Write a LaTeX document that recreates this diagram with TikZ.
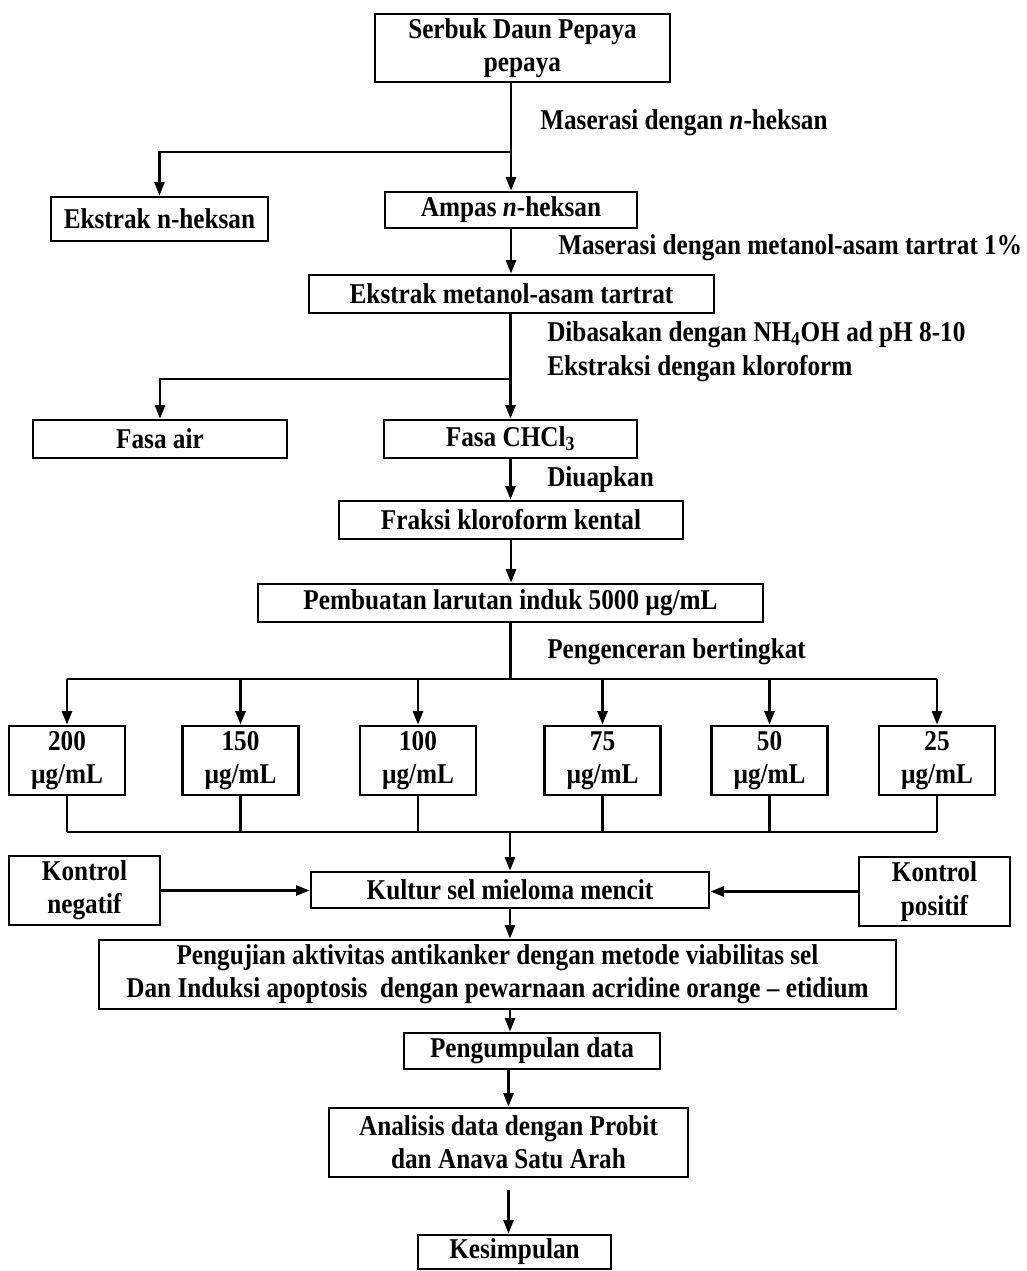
\documentclass[tikz,border=0pt]{standalone}
\usepackage{fontspec}
\setmainfont{Liberation Serif}
\newfontfamily\heavyfont{Liberation Serif}[FakeStretch=0.88,Ligatures=TeX]
\usetikzlibrary{arrows.meta}
\begin{document}
\begin{tikzpicture}[x=0.75pt,y=-0.75pt,
  txt/.style={font=\heavyfont\bfseries\fontsize{21.5}{25}\selectfont},
  box/.style={txt, draw, line width=2.2pt, inner sep=0pt, align=center},
  sz/.style 2 args={minimum width=#1*0.75pt, minimum height=#2*0.75pt},
  lbl/.style={txt, anchor=west, inner sep=0pt},
  conn/.style={line width=1.8pt},
  arr/.style={conn, -{Triangle[length=10pt,width=7.5pt]}}]
\useasboundingbox (0,0) rectangle (1026,1271);

% helper coordinates for horizontal levels
\coordinate (y152) at (0,152);
\coordinate (y379) at (0,379);
\coordinate (y679) at (0,679);
\coordinate (y832) at (0,832);

% nodes
\node[box, sz={295}{68}] (serbuk) at (522.5,48) {Serbuk Daun Pepaya\\pepaya};
\node[box, sz={217}{44}] (ekhek) at (159.5,219) {Ekstrak n-heksan};
\node[box, sz={252}{36}] (ampas) at (511,210) {Ampas \textit{n}-heksan};
\node[box, sz={405}{38}] (ekmet) at (511.5,294) {Ekstrak metanol-asam tartrat};
\node[box, sz={254}{38}] (fair) at (160,439) {Fasa air};
\node[box, sz={253}{38}] (fchcl) at (510.5,439) {Fasa CHCl\textsubscript{3}};
\node[box, sz={344}{38}] (fraksi) at (511,520) {Fraksi kloroform kental};
\node[box, sz={505}{38}] (induk) at (510.5,603) {Pembuatan larutan induk 5000 µg/mL};

\node[box, sz={116}{69}] (c200) at (67,760.5) {200\\µg/mL};
\node[box, sz={116}{69}] (c150) at (240.5,760.5) {150\\µg/mL};
\node[box, sz={116}{69}] (c100) at (418,760.5) {100\\µg/mL};
\node[box, sz={116}{69}] (c75) at (602.5,760.5) {75\\µg/mL};
\node[box, sz={116}{69}] (c50) at (769.5,760.5) {50\\µg/mL};
\node[box, sz={116}{69}] (c25) at (937,760.5) {25\\µg/mL};

\node[box, sz={151}{69}] (kneg) at (84.5,890.5) {Kontrol\\negatif};
\node[box, sz={398}{36}] (kultur) at (510,890) {Kultur sel mieloma mencit};
\node[box, sz={151}{69}] (kpos) at (934.5,891.5) {Kontrol\\positif};
\node[box, sz={797}{69}] (uji) at (497.5,974.5) {Pengujian aktivitas antikanker dengan metode viabilitas sel\\Dan Induksi apoptosis\ \ dengan pewarnaan acridine orange – etidium};
\node[box, sz={256}{36}] (kumpul) at (532,1051) {Pengumpulan data};
\node[box, sz={359}{69}] (analisis) at (508.5,1142.5) {Analisis data dengan Probit\\dan Anava Satu Arah};
\node[box, sz={193}{34}] (simpul) at (514.5,1252) {Kesimpulan};

% labels
\node[lbl] (l1) at (540,123) {Maserasi dengan \textit{n}-heksan};
\node[lbl] (l2) at (558,248) {Maserasi dengan metanol-asam tartrat 1\%};
\node[lbl] (l3) at (547,335) {Dibasakan dengan NH\textsubscript{4}OH ad pH 8-10};
\node[lbl] (l4) at (547,369) {Ekstraksi dengan kloroform};
\node[lbl] (l5) at (547,480) {Diuapkan};
\node[lbl] (l6) at (547,652) {Pengenceran bertingkat};

% connectors
\draw[arr] (serbuk.south -| ampas.north) -- (ampas.north);
\draw[arr] (ampas.north |- y152) -| (ekhek.north);
\draw[arr] (ampas.south) -- (ampas.south |- ekmet.north);
\draw[arr] (ekmet.south -| fchcl.north) -- (fchcl.north);
\draw[arr] (fchcl.north |- y379) -| (fair.north);
\draw[arr] (fchcl.south) -- (fchcl.south |- fraksi.north);
\draw[arr] (fraksi.south) -- (fraksi.south |- induk.north);
\draw[conn] (induk.south) -- (induk.south |- y679);
\draw[conn] (c200.north |- y679) -- (c25.north |- y679);
\foreach \c in {c200,c150,c100,c75,c50,c25}{
  \draw[arr] (\c.north |- y679) -- (\c.north);
  \draw[conn] (\c.south) -- (\c.south |- y832);
}
\draw[conn] (c200.south |- y832) -- (c25.south |- y832);
\draw[arr] (kultur.north |- y832) -- (kultur.north);
\draw[arr] (kneg.east) -- (kneg.east -| kultur.west);
\draw[arr] (kpos.west) -- (kpos.west -| kultur.east);
\draw[arr] (kultur.south) -- (kultur.south |- uji.north);
\draw[arr] (uji.south -| kultur.south) -- (kumpul.north -| kultur.south);
\draw[arr] (kumpul.south -| analisis.north) -- (analisis.north);
\draw[arr] ([yshift=-9pt]analisis.south) -- (analisis.south |- simpul.north);
\end{tikzpicture}
\end{document}
